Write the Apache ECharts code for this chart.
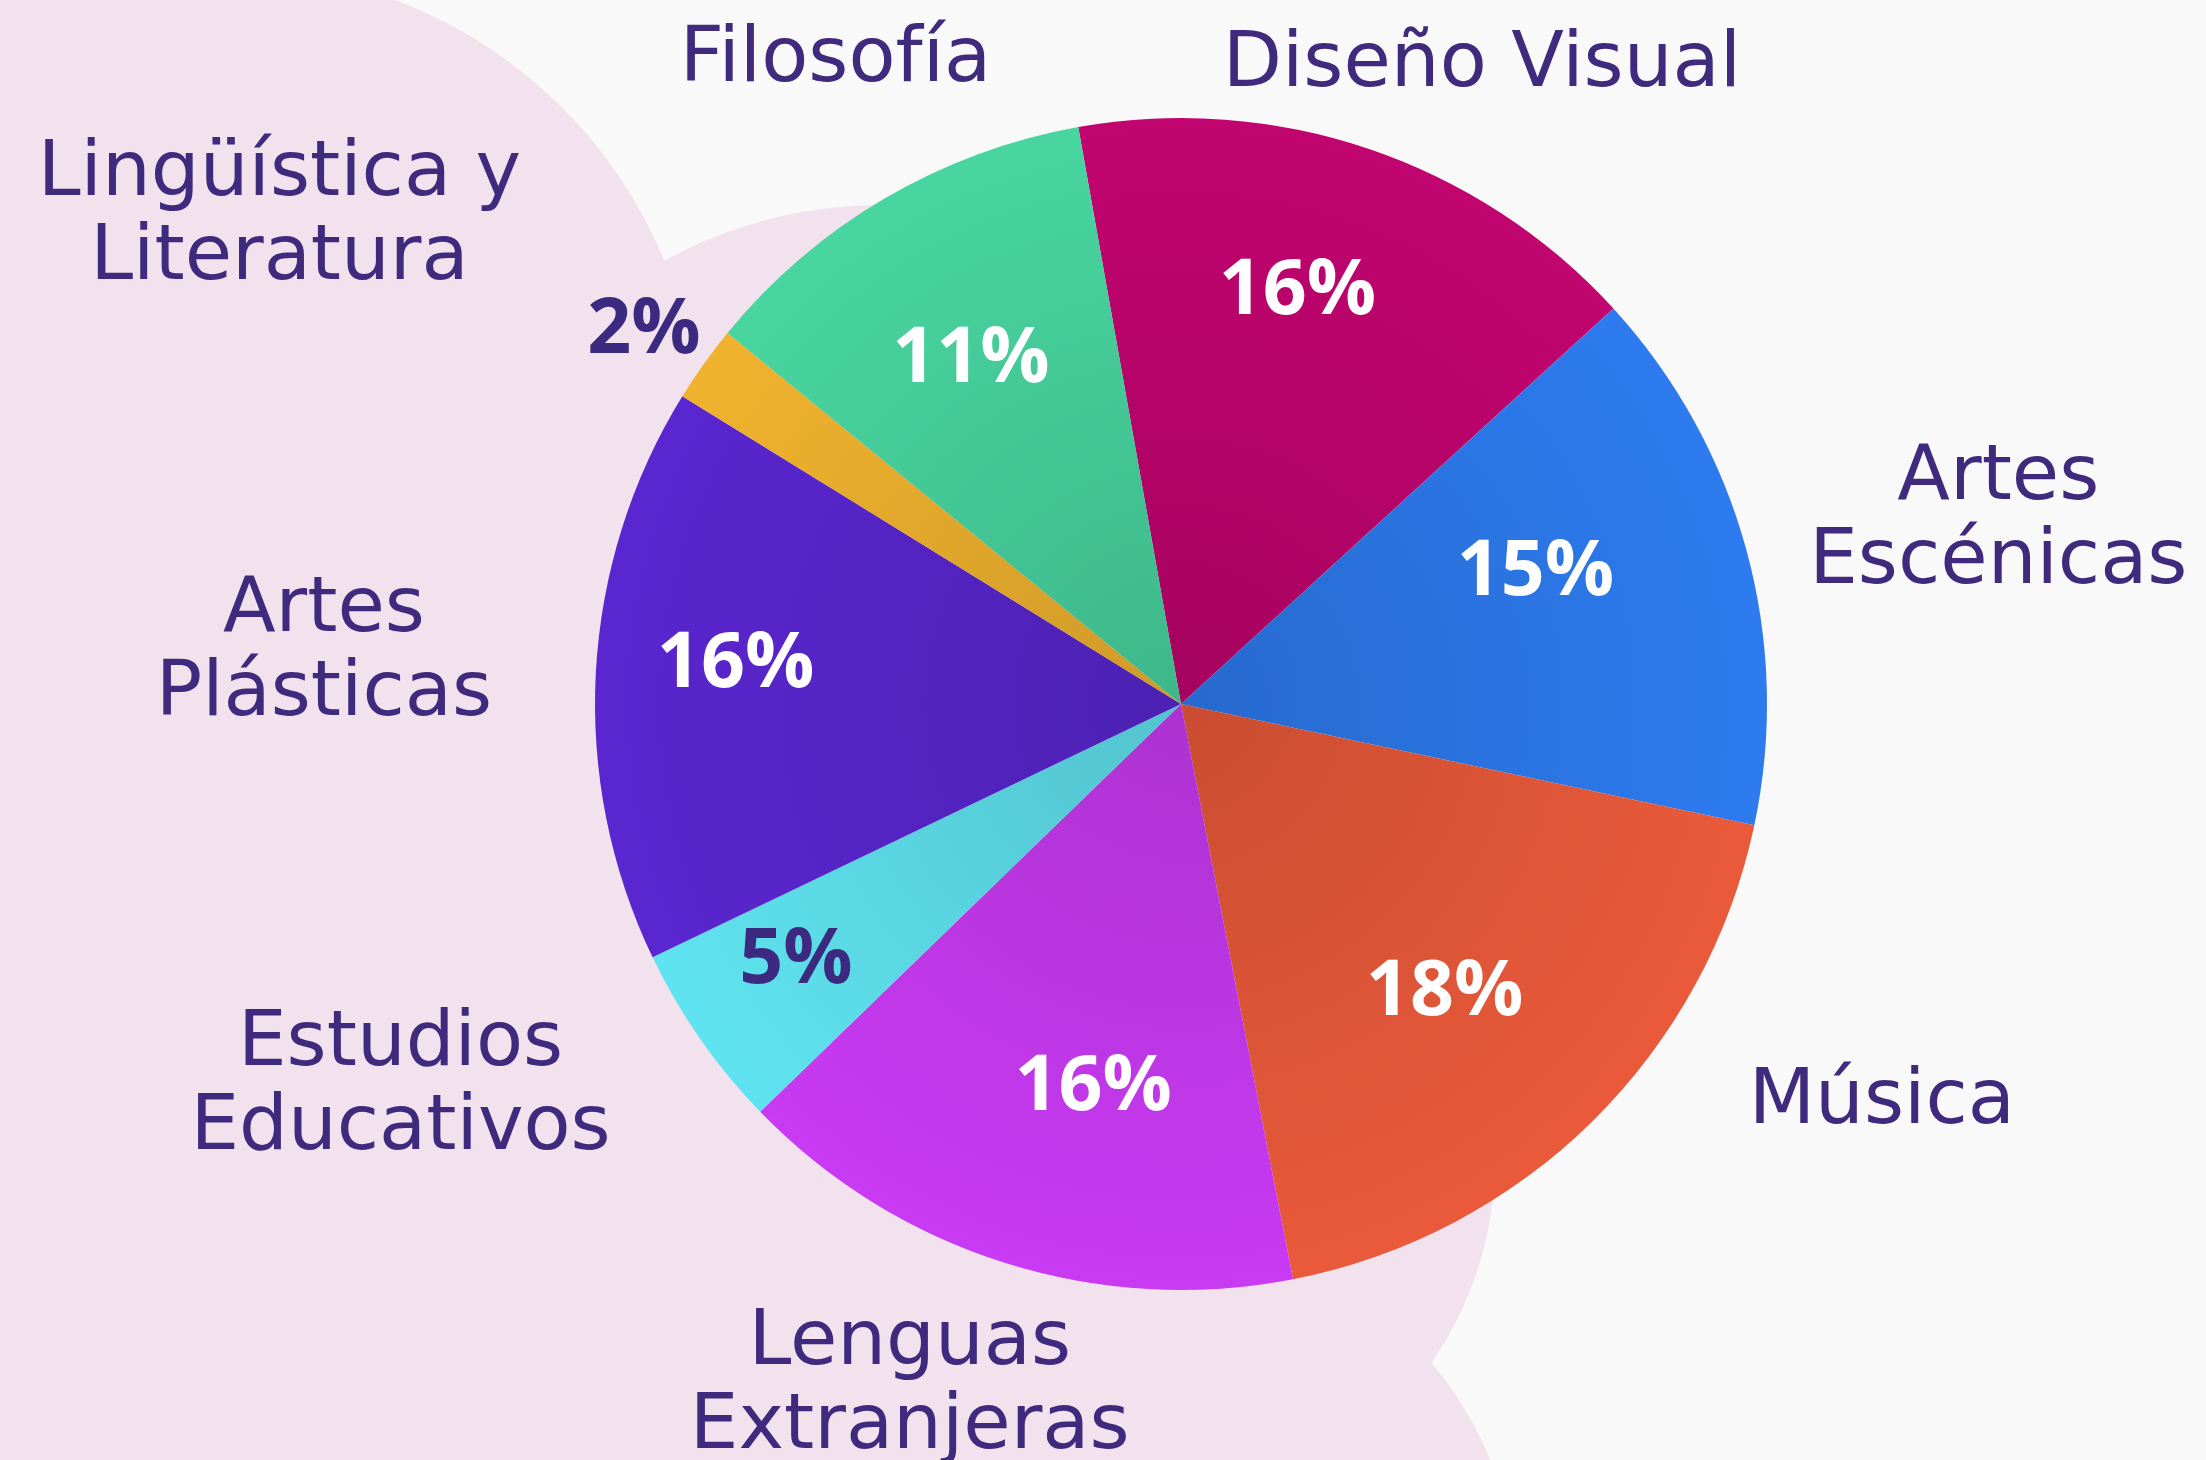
<!DOCTYPE html>
<html>
<head>
<meta charset="utf-8">
<title>Áreas</title>
<script src="https://cdn.jsdelivr.net/npm/echarts@6/dist/echarts.min.js"></script>
<style>
  html, body { margin: 0; padding: 0; background: #faf9fa; }
  #chart { width: 2206px; height: 1460px; }
</style>
</head>
<body>
<div id="chart"></div>
<script>
// áreas en orden horario, empezando por Diseño Visual
const categories = ['Diseño Visual', 'Artes\nEscénicas', 'Música', 'Lenguas\nExtranjeras',
  'Estudios\nEducativos', 'Artes\nPlásticas', 'Lingüística y\nLiteratura', 'Filosofía']
// % estimado por el ángulo de cada sector (la etiqueta lo redondea)
const shares = [15.9, 15.0, 18.49, 15.7, 5.1, 15.8, 2.1, 11.2]

const sliceColors = ['#c1046f', '#2d7bef', '#ea5a3a', '#c93af3', '#5fe3f0', '#5a26d0', '#f1b32e', '#48d5a0']
const pctColors = ['#fff', '#fff', '#fff', '#fff', '#3c2a80', '#fff', '#3c2a80', '#fff']

// anclas de etiquetas: [grados en sentido horario desde las 12, distancia / radio]
const pctAnchor = [[15.8, 0.73], [69.7, 0.645], [137.6, 0.667], [192.9, 0.672],
  [236.3, 0.79], [275, 0.763], [304.8, 1.116], [328.6, 0.688]]
const nameAnchor = [[25.0, 1.215], [76.9, 1.432], [119.2, 1.37], [201.9, 1.241],
  [244.3, 1.478], [273.9, 1.466], [298.7, 1.754], [332, 1.256]]

const CX = 1181, CY = 704, R = 586
const TEXT = '#3f2a7d'

function shade(hex, f) {
  const n = parseInt(hex.slice(1), 16)
  const r = Math.round(((n >> 16) & 255) * f)
  const g = Math.round(((n >> 8) & 255) * f)
  const b = Math.round((n & 255) * f)
  return `rgb(${r},${g},${b})`
}

function anchorLayout(anchors, dy) {
  return function (params) {
    const [deg, k] = anchors[params.dataIndex]
    const a = deg * Math.PI / 180
    return {
      x: CX + Math.sin(a) * R * k,
      y: CY - Math.cos(a) * R * k + dy,
      align: 'center',
      verticalAlign: 'middle'
    }
  }
}

const chart = echarts.init(document.getElementById('chart'))

const sliceData = categories.map((name, i) => ({
  name: name,
  value: shares[i],
  itemStyle: {
    color: new echarts.graphic.RadialGradient(CX, CY, R, [
      { offset: 0, color: shade(sliceColors[i], 0.86) },
      { offset: 1, color: sliceColors[i] }
    ], true)
  },
  label: { color: pctColors[i] }
}))

const blobColor = '#f2e2ee'

const option = {
  backgroundColor: '#faf9fa',
  animation: false,
  // mancha rosa del fondo
  graphic: [
    { type: 'rect', shape: { x: 0, y: 0, width: 240, height: 1460 }, style: { fill: blobColor }, silent: true },
    { type: 'circle', shape: { cx: 230, cy: 440, r: 470 }, style: { fill: blobColor }, silent: true },
    { type: 'circle', shape: { cx: 880, cy: 650, r: 445 }, style: { fill: blobColor }, silent: true },
    { type: 'rect', shape: { x: 0, y: 440, width: 1150, height: 1020 }, style: { fill: blobColor }, silent: true },
    { type: 'circle', shape: { cx: 1140, cy: 1160, r: 355 }, style: { fill: blobColor }, silent: true },
    { type: 'circle', shape: { cx: 1150, cy: 1600, r: 368 }, style: { fill: blobColor }, silent: true }
  ],
  series: [
    {
      name: 'porcentaje',
      type: 'pie',
      center: [CX, CY],
      radius: R,
      startAngle: 100.1,
      clockwise: true,
      avoidLabelOverlap: false,
      emphasis: { disabled: true },
      itemStyle: { borderWidth: 0 },
      label: {
        show: true,
        position: 'inside',
        fontFamily: '"Open Sans", sans-serif',
        fontWeight: 'bold',
        fontSize: 77,
        formatter: p => Math.round(p.value) + '%'
      },
      labelLine: { show: false },
      labelLayout: anchorLayout(pctAnchor, 0),
      data: sliceData
    },
    {
      name: 'área',
      type: 'pie',
      center: [CX, CY],
      radius: R,
      startAngle: 100.1,
      clockwise: true,
      silent: true,
      avoidLabelOverlap: false,
      itemStyle: { color: 'rgba(0,0,0,0)', borderWidth: 0 },
      label: {
        show: true,
        position: 'inside',
        color: TEXT,
        fontFamily: '"DejaVu Sans", sans-serif',
        fontSize: 77,
        lineHeight: 84,
        formatter: '{b}'
      },
      labelLine: { show: false },
      labelLayout: anchorLayout(nameAnchor, 7),
      data: categories.map((name, i) => ({ name: name, value: shares[i] }))
    }
  ]
}

chart.setOption(option)
</script>
</body>
</html>
